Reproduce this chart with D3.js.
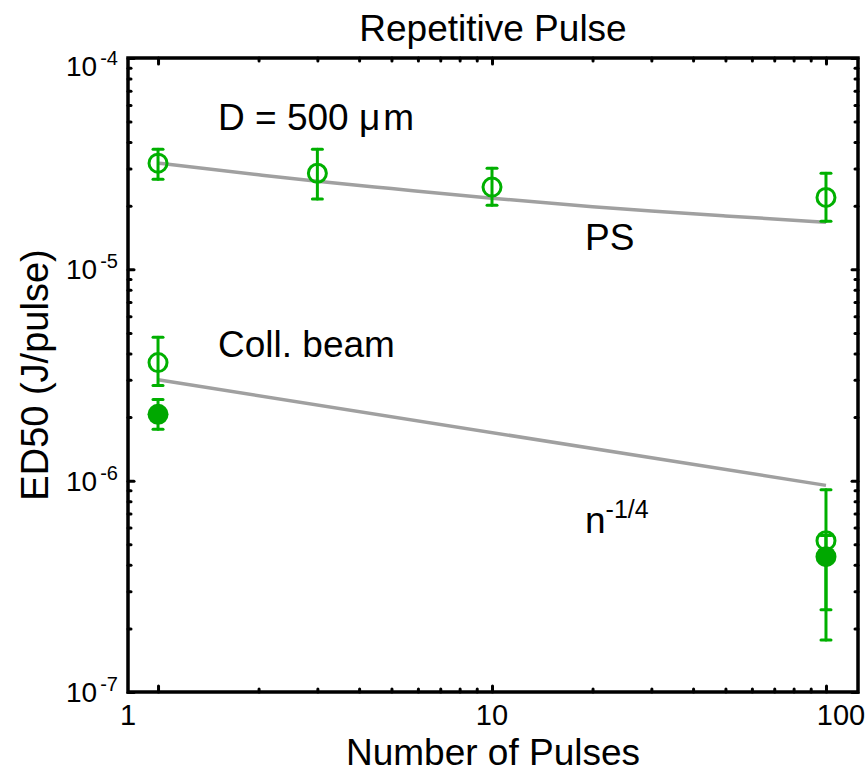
<!DOCTYPE html>
<html>
<head>
<meta charset="utf-8">
<script src="https://cdn.jsdelivr.net/npm/d3@7"></script>
<style>
body { margin: 0; background: #fff; }
text { font-family: "Liberation Sans", Arial, sans-serif; fill: #000; }
</style>
</head>
<body>
<svg id="chart" width="867" height="772"></svg>
<script>
// ED50 per pulse, aperture D = 500 um (open circles)
var psPulses = [1, 3, 10, 100];
var psMean = [3.18e-5, 2.85e-5, 2.45e-5, 2.19e-5];
var psLow  = [2.67e-5, 2.15e-5, 2.01e-5, 1.69e-5];
var psHigh = [3.70e-5, 3.70e-5, 3.01e-5, 2.85e-5];

// collimated beam, open and filled circles
var collPulses = [1, 100];
var collOpenMean = [3.62e-6, 5.2e-7];
var collOpenLow  = [2.82e-6, 2.45e-7];
var collOpenHigh = [4.77e-6, 9.05e-7];
var collFillMean = [2.06e-6, 4.37e-7];
var collFillLow  = [1.75e-6, 1.76e-7];
var collFillHigh = [2.42e-6, 5.5e-7];

// model curves (gray)
var psFitN   = [1, 2, 3, 5, 10, 20, 30, 50, 100];
var psFitVal = [3.18e-5, 2.80e-5, 2.61e-5, 2.41e-5, 2.17e-5, 1.98e-5, 1.89e-5, 1.79e-5, 1.67e-5];
var collFitN   = [1, 100];
var collFitVal = [3.0e-6, 9.5e-7];

var xMajor = [1, 10, 100];
var xTickLabels = ['1', '10', '100'];
var yMajor = [1e-4, 1e-5, 1e-6, 1e-7];
var yTickExp = ['-4', '-5', '-6', '-7'];

var svg = d3.select('#chart');
var box = {x0: 128, x1: 858, y0: 58, y1: 692};
var bigFont = '37px';

var x = d3.scaleLog().domain([0.813, 124.7]).range([box.x0, box.x1]);
var y = d3.scaleLog().domain([1e-7, 1e-4]).range([box.y1, box.y0]);

var green = '#00b000', greenFill = '#00a800', gray = '#a0a0a0';

// minor ticks
var xMinor = [], yMinor = [];
[1, 10].forEach(function(d) { for (var k = 2; k <= 9; k++) xMinor.push(d * k); });
[1e-7, 1e-6, 1e-5].forEach(function(d) { for (var k = 2; k <= 9; k++) yMinor.push(d * k); });

function drawTicks(axisFn, scale, vals, len, tr) {
    var g = svg.append('g').attr('transform', tr)
        .call(axisFn(scale).tickValues(vals).tickSize(len).tickFormat(''));
    g.select('.domain').remove();
    g.selectAll('.tick line').attr('stroke', '#000').attr('stroke-width', 3).attr('stroke-linecap', 'round');
}

// ticks inward on all four sides
drawTicks(d3.axisBottom, x, xMajor, -6, 'translate(0,' + box.y1 + ')');
drawTicks(d3.axisBottom, x, xMinor, -3, 'translate(0,' + box.y1 + ')');
drawTicks(d3.axisTop, x, xMajor, -6, 'translate(0,' + box.y0 + ')');
drawTicks(d3.axisTop, x, xMinor, -3, 'translate(0,' + box.y0 + ')');
drawTicks(d3.axisLeft, y, yMajor, -6, 'translate(' + box.x0 + ',0)');
drawTicks(d3.axisLeft, y, yMinor, -3, 'translate(' + box.x0 + ',0)');
drawTicks(d3.axisRight, y, yMajor, -6, 'translate(' + box.x1 + ',0)');
drawTicks(d3.axisRight, y, yMinor, -3, 'translate(' + box.x1 + ',0)');

// frame
svg.append('rect').attr('x', box.x0).attr('y', box.y0)
    .attr('width', box.x1 - box.x0).attr('height', box.y1 - box.y0)
    .attr('fill', 'none').attr('stroke', '#000').attr('stroke-width', 3.5);

// x tick labels (the outer ones sit at the frame ends)
var xr = x.range();
var xLabPos = [xr[0], x(10), xr[1] - 17];
svg.selectAll('.xlab').data(xTickLabels).enter().append('text')
    .attr('class', 'xlab')
    .attr('x', function(d, i) { return xLabPos[i]; })
    .attr('y', 725).attr('text-anchor', 'middle')
    .style('font-size', '29px').text(function(d) { return d; });

// y tick labels, 10^n
svg.selectAll('.ylab').data(yMajor).enter().append('text')
    .attr('class', 'ylab')
    .attr('x', 118).attr('text-anchor', 'end')
    .attr('y', function(d) { return Math.max(y(d), 66) + 10; })
    .style('font-size', '28px')
    .each(function(d, i) {
        var t = d3.select(this);
        t.append('tspan').text('10');
        t.append('tspan').attr('dx', 3).attr('dy', -11).style('font-size', '20px').text(yTickExp[i]);
    });

// titles
svg.append('text').attr('x', (box.x0 + box.x1) / 2).attr('y', 41)
    .attr('text-anchor', 'middle').style('font-size', bigFont).text('Repetitive Pulse');
svg.append('text').attr('x', (box.x0 + box.x1) / 2).attr('y', 765)
    .attr('text-anchor', 'middle').style('font-size', bigFont).text('Number of Pulses');
svg.append('text').attr('transform', 'translate(48,' + (box.y0 + box.y1) / 2 + ') rotate(-90)')
    .attr('text-anchor', 'middle').style('font-size', '38px').text('ED50 (J/pulse)');

// model lines
var line = d3.line().x(function(d) { return x(d[0]); }).y(function(d) { return y(d[1]); })
    .curve(d3.curveMonotoneX);
[[psFitN, psFitVal], [collFitN, collFitVal]].forEach(function(s) {
    svg.append('path').datum(d3.zip(s[0], s[1])).attr('d', line)
        .attr('fill', 'none').attr('stroke', gray).attr('stroke-width', 3.5);
});

// error bars
function errBars(ns, lo, hi) {
    var g = svg.append('g').attr('stroke', green).attr('stroke-width', 3).attr('stroke-linecap', 'round');
    ns.forEach(function(n, i) {
        var cx = x(n);
        g.append('line').attr('x1', cx).attr('x2', cx).attr('y1', y(lo[i])).attr('y2', y(hi[i]));
        [lo[i], hi[i]].forEach(function(v) {
            g.append('line').attr('x1', cx - 5).attr('x2', cx + 5).attr('y1', y(v)).attr('y2', y(v));
        });
    });
}
errBars(psPulses, psLow, psHigh);
errBars(collPulses, collOpenLow, collOpenHigh);
errBars(collPulses, collFillLow, collFillHigh);

// markers
function openCircles(ns, vals) {
    svg.append('g').selectAll('circle').data(d3.zip(ns, vals)).enter().append('circle')
        .attr('cx', function(d) { return x(d[0]); }).attr('cy', function(d) { return y(d[1]); })
        .attr('r', 9).attr('fill', 'none').attr('stroke', green).attr('stroke-width', 3);
}
openCircles(psPulses, psMean);
openCircles(collPulses, collOpenMean);
svg.append('g').selectAll('circle').data(d3.zip(collPulses, collFillMean)).enter().append('circle')
    .attr('cx', function(d) { return x(d[0]); }).attr('cy', function(d) { return y(d[1]); })
    .attr('r', 10.5).attr('fill', greenFill);

// annotations
var d5 = svg.append('text').attr('x', 218).attr('y', 130).style('font-size', bigFont);
d5.append('tspan').text('D = 500 ');
d5.append('tspan').text('\u03bc');
d5.append('tspan').attr('dx', 3).text('m');
svg.append('text').attr('x', 585).attr('y', 250).style('font-size', bigFont).text('PS');
svg.append('text').attr('x', 218).attr('y', 357).style('font-size', bigFont).text('Coll. beam');
var nq = svg.append('text').attr('x', 585).attr('y', 533).style('font-size', bigFont);
nq.append('tspan').text('n');
nq.append('tspan').attr('dy', -15).style('font-size', '25px').text('-1/4');
</script>
</body>
</html>
